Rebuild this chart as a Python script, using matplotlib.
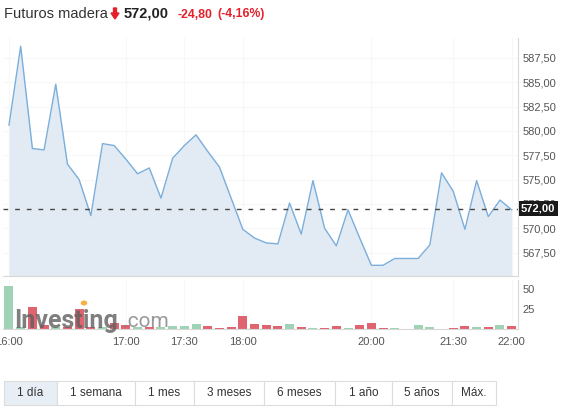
import matplotlib
matplotlib.use("Agg")
import matplotlib.pyplot as plt
from matplotlib.patches import Rectangle, Polygon, Circle
import numpy as np

plt.rcParams['font.family'] = ['Liberation Sans', 'DejaVu Sans']

# ---- data ----
price = [580.6, 588.7, 578.2, 578.05, 584.8, 576.6, 575.0, 571.3, 578.7, 578.5,
         577.1, 575.6, 576.2, 573.1, 577.2, 578.5, 579.6, 577.9, 576.3, 573.1,
         569.9, 569.0, 568.5, 568.4, 572.6, 569.4, 574.9, 570.0, 568.2, 571.9,
         569.0, 566.2, 566.2, 566.9, 566.9, 566.9, 568.3, 575.7, 573.8, 569.9,
         574.9, 571.2, 572.9, 571.9]
volume = [54, 2, 27, 5, 2, 3, 25, 2, 3, 7,
          5, 3, 2, 3, 4, 3.3, 6.2, 3.8, 1.6, 2.5,
          16.6, 6.2, 5, 3.8, 5.8, 2.5, 1.2, 1.6, 3.8, 1.2,
          5, 7.9, 1.2, 0.9, 0.4, 5, 2, 0.5, 0.8, 3.8,
          2.5, 3, 5, 4.2]
vol_up = [1, 1, 0, 0, 1, 0, 0, 0, 1, 0,
          0, 1, 0, 1, 1, 1, 1, 0, 0, 0,
          0, 0, 0, 0, 1, 0, 1, 0, 0, 1,
          0, 0, 0, 1, 1, 1, 1, 1, 0, 0,
          1, 0, 1, 0]
time_pos = [0, 10, 15, 20, 31, 38, 43]
time_labels = ['16:00', '17:00', '17:30', '18:00', '20:00', '21:30', '22:00']
price_ticks = [567.5, 570.0, 572.5, 575.0, 577.5, 580.0, 582.5, 585.0, 587.5]
vol_ticks = [25, 50]
last_price = 572.00
title = 'Futuros madera'
last_txt = '572,00'
change_txt = '-24,80'
pct_txt = '(-4,16%)'
buttons = ['1 día', '1 semana', '1 mes', '3 meses', '6 meses', '1 año', '5 años', 'Máx.']

W, H = 567, 408
fig = plt.figure(figsize=(W / 100, H / 100), dpi=100)
fig.patch.set_facecolor('white')

def fx(px):
    return px / W

def fy(py):
    return 1 - py / H

x = np.arange(len(price))
XL = (-0.513, 43.54)
GRID = '#f7f7f7'
TXT = '#555555'

# ---- price panel ----
ax = fig.add_axes([fx(3), fy(276), fx(515), 238 / H])
ylo, yhi = 565.1, 589.55
ax.set_xlim(*XL)
ax.set_ylim(ylo, yhi)
ax.fill_between(x, price, ylo, color='#e2ebf3', lw=0, zorder=1)
ax.plot(x, price, color='#7aaedb', lw=1.0, zorder=3)
ax.axhline(last_price, color='#444444', lw=1.0, ls=(0, (3.4, 5)), zorder=4)
for s in ['top', 'left']:
    ax.spines[s].set_visible(False)
ax.spines['bottom'].set_color('#d8d8d8')
ax.spines['right'].set_color('#d8d8d8')
ax.yaxis.tick_right()
ax.set_yticks(price_ticks)
ax.set_yticklabels([f'{v:.2f}'.replace('.', ',') for v in price_ticks])
ax.tick_params(axis='y', length=0, pad=3, labelsize=8, labelcolor=TXT)
ax.set_xticks(time_pos)
ax.tick_params(axis='x', length=0, labelbottom=False)
ax.grid(True, color=GRID, lw=0.8, zorder=0)
ax.set_axisbelow(True)
ax.text(1.006, last_price, last_txt, transform=ax.get_yaxis_transform(),
        ha='left', va='center', color='white', fontsize=8, fontweight='bold',
        bbox=dict(boxstyle='square,pad=0.22', fc='#1a1a1a', ec='none'), zorder=10,
        clip_on=False)

# ---- volume panel ----
av = fig.add_axes([fx(3), fy(329), fx(515), 49 / H])
av.set_xlim(*XL)
av.set_ylim(0, 61.25)
cols = ['#9fd3b6' if u else '#e0646f' for u in vol_up]
av.bar(x, volume, width=0.77, color=cols, lw=0, zorder=2)
for s in ['top', 'left']:
    av.spines[s].set_visible(False)
av.spines['bottom'].set_color('#d8d8d8')
av.spines['right'].set_color('#d8d8d8')
av.yaxis.tick_right()
av.set_yticks(vol_ticks)
av.tick_params(axis='y', length=0, pad=3, labelsize=8, labelcolor=TXT)
av.set_xticks(time_pos)
av.set_xticklabels(time_labels)
av.tick_params(axis='x', length=0, pad=6, labelsize=8, labelcolor=TXT)
av.grid(True, axis='x', color=GRID, lw=0.8, zorder=0)
av.set_axisbelow(True)

# watermark
fig.text(fx(14), fy(328), 'Investing', fontsize=18, fontweight='bold',
         family=['Roboto', 'Liberation Sans'], color='#5f5f5f', alpha=0.8,
         ha='left', va='baseline', zorder=20)
fig.text(fx(122), fy(327), '.com', fontsize=15, family=['Roboto', 'Liberation Sans'],
         color='#808080', alpha=0.8, ha='left', va='baseline', zorder=20)
fig.add_artist(Circle((fx(84), fy(303)), 0.0045, transform=fig.transFigure,
                      color='#f5a623', alpha=0.8, zorder=21))

# ---- title row ----
fig.text(fx(4), fy(14), title, fontsize=10.5, color='#333333', ha='left', va='center')
arrow = [(113.5, 8), (116.5, 8), (116.5, 13), (119, 13), (115, 19), (111, 13), (113.5, 13)]
fig.add_artist(Polygon([(fx(a), fy(b)) for a, b in arrow], closed=True,
                       transform=fig.transFigure, color='#e4202b'))
fig.text(fx(124), fy(14), last_txt, fontsize=10.5, fontweight='bold', color='#222222',
         ha='left', va='center')
fig.text(fx(177), fy(14.5), change_txt, fontsize=8.8, fontweight='bold', color='#e4202b',
         ha='left', va='center')
fig.text(fx(217), fy(14.5), pct_txt, fontsize=8.8, fontweight='bold', color='#e4202b',
         ha='left', va='center')

# ---- range buttons ----
edges = [4, 57, 135, 194, 264, 335, 392, 452, 496]
for i, lab in enumerate(buttons):
    x0, x1 = edges[i], edges[i + 1]
    fc = '#e7eef5' if i == 0 else 'white'
    fig.add_artist(Rectangle((fx(x0), fy(405)), fx(x1 - x0), 24 / H,
                             transform=fig.transFigure, fc=fc, ec='#dcdcdc', lw=0.8))
    fig.text(fx((x0 + x1) / 2), fy(393), lab, fontsize=8.5, color='#333333',
             ha='center', va='center')

fig.savefig('out.png', dpi=100, facecolor='white')
